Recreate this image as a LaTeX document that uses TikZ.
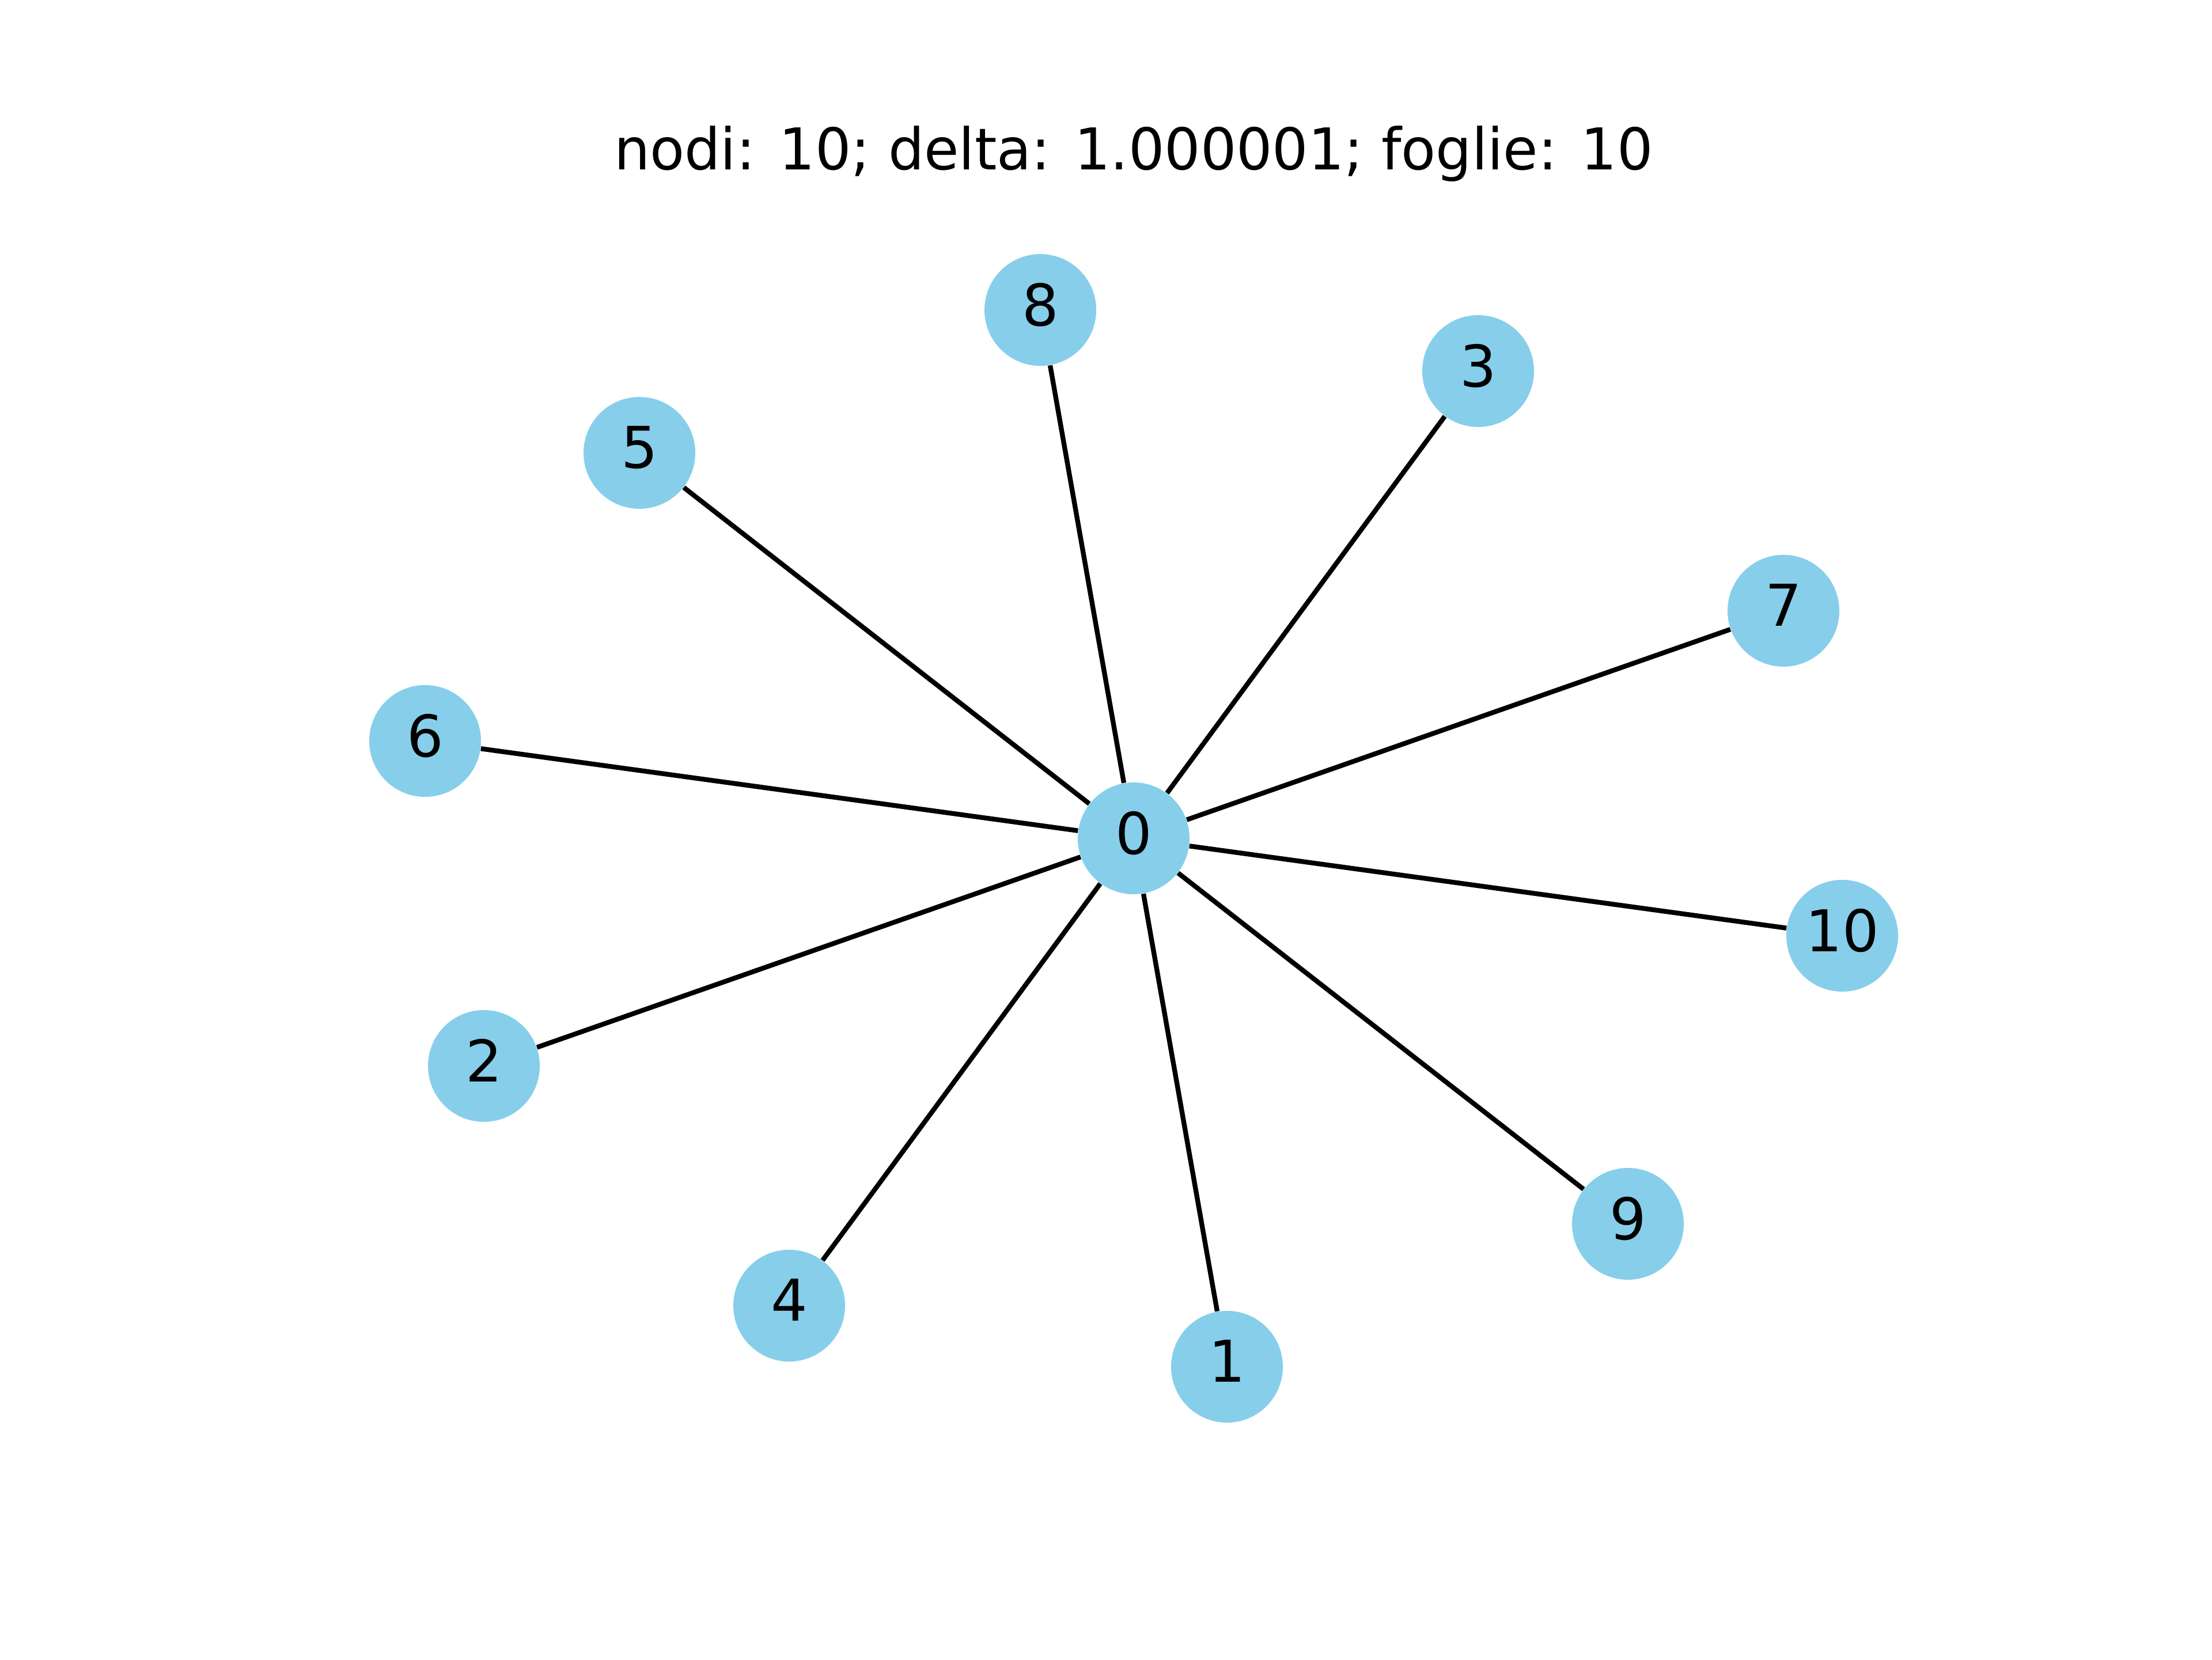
\documentclass[tikz,border=0pt]{standalone}
\usepackage{fontspec}
\setmainfont{DejaVu Sans}
\definecolor{skyblue}{HTML}{87CEEB}
\begin{document}
\begin{tikzpicture}[
  vertex/.style={circle, fill=skyblue, draw=none, inner sep=0pt, minimum size=1.94cm,
    font=\fontsize{28.45pt}{34pt}\selectfont, text depth=0.2cm, text=black},
  edge/.style={draw=black, line width=0.0833cm},
  titletext/.style={anchor=base, inner sep=0pt, xscale=0.982, font=\fontsize{28.45pt}{34pt}\selectfont}
]
\useasboundingbox (0,0) rectangle (38.4,28.8);
\node[titletext] (title) at (19.68,25.85) {nodi: 10; delta: 1.000001; foglie: 10};
\node[vertex] (n0) at (19.68,14.25) {0};
\node[vertex] (n8) at (18.06,23.42) {8};
\node[vertex] (n3) at (25.66,22.36) {3};
\node[vertex] (n5) at (11.10,20.94) {5};
\node[vertex] (n7) at (30.96,18.20) {7};
\node[vertex] (n6) at (7.38,15.94) {6};
\node[vertex] (n10) at (31.98,12.56) {10};
\node[vertex] (n2) at (8.40,10.30) {2};
\node[vertex] (n9) at (28.26,7.56) {9};
\node[vertex] (n4) at (13.70,6.14) {4};
\node[vertex] (n1) at (21.30,5.08) {1};
\foreach \k in {1,2,3,4,5,6,7,8,9,10}{
  \draw[edge] (n0) -- (n\k);
}
\end{tikzpicture}
\end{document}
